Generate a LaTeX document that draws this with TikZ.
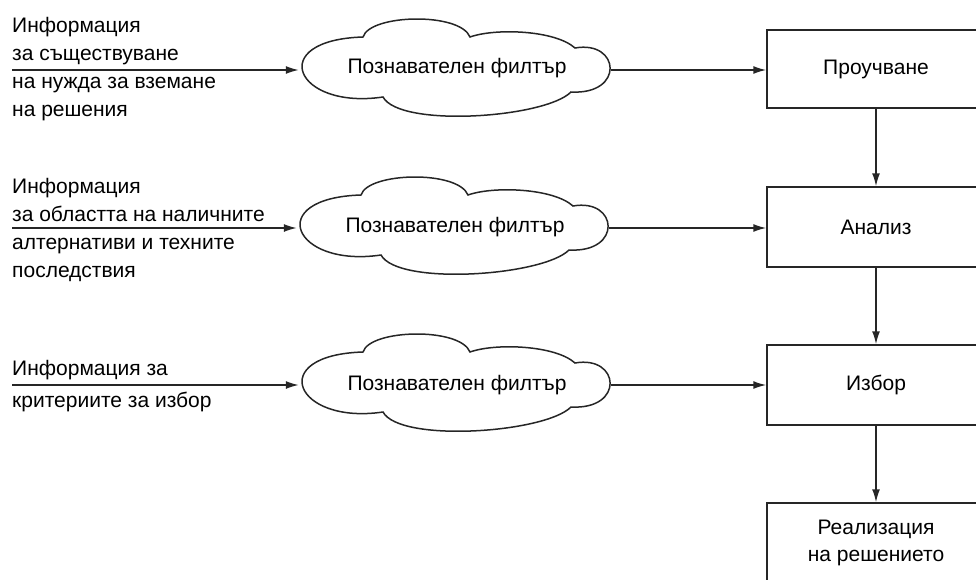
\documentclass[tikz,border=0pt]{standalone}
\usepackage{fontspec}
\setmainfont{Liberation Sans}
\usetikzlibrary{arrows.meta}
\tikzset{
  lw/.style={line width=1.5pt, draw=black!85},
  arr/.style={lw, -{Latex[length=13pt,width=8pt]}},
  procbox/.style={lw, rectangle, minimum width=218pt, minimum height=80pt, align=center, inner sep=0pt},
  cloudnode/.style={rectangle, minimum width=312pt, minimum height=88pt, inner sep=0pt},
  lbl/.style={anchor=west, align=left, inner sep=0pt},
  cloudpic/.pic={
    \draw[lw]
      (-72,27) .. controls (-160,40) and (-190,-30) .. (-92,-33)
      .. controls (-85,-56) and (5,-58) .. (15,-33)
      .. controls (40,-42) and (100,-40) .. (120,-22)
      .. controls (165,-30) and (170,25) .. (116,22)
      .. controls (90,48) and (-55,58) .. (-72,27) -- cycle;
  }
}
\begin{document}
\begin{tikzpicture}[x=1pt,y=-1pt,font=\fontsize{21}{27.8}\selectfont]
\useasboundingbox (0,0) rectangle (976,579);
\clip (0,0) rectangle (976,579);

% clouds
\pic at (455,70) {cloudpic};
\pic at (453,228) {cloudpic};
\pic at (455,385) {cloudpic};
\node[cloudnode] (c1) at (455,70) {};
\node[cloudnode] (c2) at (453,228) {};
\node[cloudnode] (c3) at (455,385) {};
\node (t1) at (457,68) {Познавателен филтър};
\node (t2) at (455,227) {Познавателен филтър};
\node (t3) at (457,385) {Познавателен филтър};

% boxes
\node[procbox, minimum height=78pt] (b1) at (876,69) {Проучване};
\node[procbox] (b2) at (876,227) {Анализ};
\node[procbox] (b3) at (876,385) {Избор};
\node[procbox] (b4) at (876,543) {Реализация\\на решението};

% left labels
\node[lbl] (l1) at (12,69) {Информация\\за съществуване\\на нужда за вземане\\на решения};
\node[lbl] (l2) at (12,230) {Информация\\за областта на наличните\\алтернативи и техните\\последствия};
\node[lbl] (l3) at (12,386) {Информация за\\[4pt]критериите за избор};

\coordinate (s1) at (12,70);
\coordinate (s2) at (12,228);
\coordinate (s3) at (12,385);

% connectors
\draw[arr] (s1) -- (c1.west);
\draw[arr] (s2) -- (c2.west);
\draw[arr] (s3) -- (c3.west);
\draw[arr] (c1.east) -- (b1.west |- c1.east);
\draw[arr] (c2.east) -- (b2.west |- c2.east);
\draw[arr] (c3.east) -- (b3.west |- c3.east);
\draw[arr] (b1.south) -- (b2.north);
\draw[arr] (b2.south) -- (b3.north);
\draw[arr] (b3.south) -- (b4.north);
\end{tikzpicture}
\end{document}
